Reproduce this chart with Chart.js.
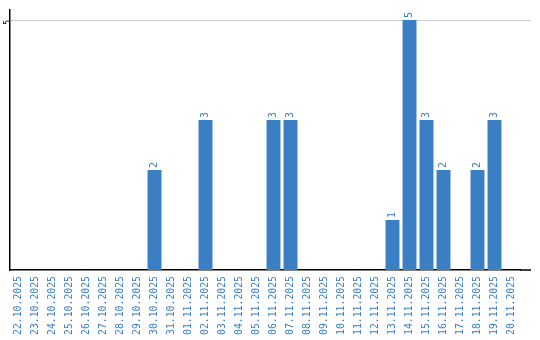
<!DOCTYPE html>
<html>
<head>
<meta charset="utf-8">
<script src="https://cdn.jsdelivr.net/npm/chart.js@4"></script>
<style>
  html, body { margin: 0; padding: 0; background: #fff; }
  #wrap { width: 540px; height: 340px; }
</style>
</head>
<body>
<div id="wrap"><canvas id="barChart"></canvas></div>
<script>
const days = [
    '22.10.2025', '23.10.2025', '24.10.2025', '25.10.2025', '26.10.2025',
    '27.10.2025', '28.10.2025', '29.10.2025', '30.10.2025', '31.10.2025',
    '01.11.2025', '02.11.2025', '03.11.2025', '04.11.2025', '05.11.2025',
    '06.11.2025', '07.11.2025', '08.11.2025', '09.11.2025', '10.11.2025',
    '11.11.2025', '12.11.2025', '13.11.2025', '14.11.2025', '15.11.2025',
    '16.11.2025', '17.11.2025', '18.11.2025', '19.11.2025', '20.11.2025'
];
const counts = [
    0, 0, 0, 0, 0, 0, 0, 0, 2, 0,
    0, 3, 0, 0, 0, 3, 3, 0, 0, 0,
    0, 0, 1, 5, 3, 2, 0, 2, 3, 0
];
const yTicks = [5];

const blue = '#3a7ec4';
const mono = 'DejaVu Sans Mono';

// values written above the bars, turned on their side
const barValues = {
    id: 'barValues',
    afterDatasetsDraw(chart) {
        const ctx = chart.ctx;
        const meta = chart.getDatasetMeta(0);
        ctx.save();
        ctx.fillStyle = blue;
        ctx.font = '10px "' + mono + '"';
        ctx.textAlign = 'left';
        ctx.textBaseline = 'middle';
        meta.data.forEach(function (bar, i) {
            if (!counts[i]) return;
            ctx.save();
            ctx.translate(bar.x, bar.y - 2);
            ctx.rotate(-Math.PI / 2);
            ctx.fillText(String(counts[i]), 0, 0);
            ctx.restore();
        });
        ctx.restore();
    }
};

// axis line and grid line run a bit past the last category
const lineTail = {
    id: 'lineTail',
    afterDraw(chart) {
        const ctx = chart.ctx;
        const area = chart.chartArea;
        const y = chart.scales.y;
        ctx.save();
        ctx.lineWidth = 1;
        ctx.strokeStyle = '#cccccc';
        yTicks.forEach(function (v) {
            const py = Math.round(y.getPixelForValue(v)) + 0.5;
            ctx.beginPath();
            ctx.moveTo(area.right, py);
            ctx.lineTo(area.right + 11, py);
            ctx.stroke();
        });
        ctx.lineWidth = 1.5;
        ctx.strokeStyle = '#000';
        ctx.beginPath();
        ctx.moveTo(area.right, area.bottom);
        ctx.lineTo(area.right + 11, area.bottom);
        ctx.stroke();
        ctx.restore();
    }
};

var ctx = document.getElementById('barChart').getContext('2d');
var myChart = new Chart(ctx, {
    type: 'bar',
    data: {
        labels: days,
        datasets: [{
            data: counts,
            backgroundColor: blue,
            borderWidth: 0,
            barPercentage: 0.82,
            categoryPercentage: 1
        }]
    },
    options: {
        responsive: true,
        maintainAspectRatio: false,
        animation: false,
        layout: { padding: { top: 10, right: 20, left: 0, bottom: 0 } },
        plugins: {
            legend: { display: false },
            tooltip: { enabled: false }
        },
        scales: {
            x: {
                grid: { display: false, drawTicks: false },
                border: { color: '#000', width: 1.5 },
                ticks: {
                    color: blue,
                    font: { family: mono, size: 9.8 },
                    minRotation: 90,
                    maxRotation: 90,
                    autoSkip: false,
                    padding: 6
                },
                afterFit: function (scale) { scale.height = 70; }
            },
            y: {
                min: 0,
                max: 5.2,
                afterBuildTicks: function (scale) {
                    scale.ticks = yTicks.map(function (v) { return { value: v }; });
                },
                grid: { color: '#cccccc', drawTicks: false },
                border: { color: '#000', width: 1.5 },
                ticks: {
                    color: '#000',
                    font: { family: mono, size: 8 },
                    minRotation: 90,
                    padding: 2
                },
                afterFit: function (scale) { scale.width = 10; }
            }
        }
    },
    plugins: [barValues, lineTail]
});
</script>
</body>
</html>
